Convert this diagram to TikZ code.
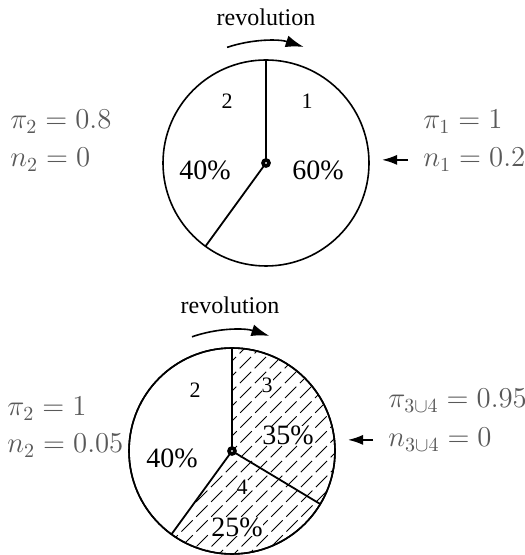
\documentclass[tikz,border=0pt]{standalone}
\usepackage[no-math]{fontspec}
\setmainfont{Liberation Serif}
\usetikzlibrary{arrows.meta, calc}
\definecolor{labelgray}{gray}{0.35}
\tikzset{
  disc/.style={circle, draw, line width=0.8pt, outer sep=0pt, inner sep=0pt, minimum size=103pt},
  spoke/.style={line width=0.9pt},
  hub/.style={circle, draw, fill=white, line width=1.8pt, inner sep=0pt, outer sep=0pt, minimum size=3pt},
  hatchline/.style={line width=0.45pt, dash pattern=on 8pt off 2.5pt},
  revarrow/.style={line width=0.8pt, -{Latex[length=9pt,width=6pt]}},
  feed/.style={line width=0.8pt, -{Latex[length=7.5pt,width=5pt]}},
  pct/.style={font=\fontsize{14}{16}\selectfont, inner sep=0pt},
  sectorno/.style={font=\fontsize{11}{13}\selectfont, inner sep=0pt},
  revtext/.style={font=\fontsize{12}{14}\selectfont, inner sep=0pt},
  param/.style={font=\fontsize{14}{16}\selectfont, text=labelgray, anchor=base west, inner sep=0pt}
}
\begin{document}
\begin{tikzpicture}[x=0.5pt, y=0.5pt]
  \useasboundingbox (0,0) rectangle (524,555);

  % Top disc: two sectors
  \coordinate (T) at (266,392);
  \node[disc] (discT) at (T) {};
  \node[hub] (hubT) at (T) {};
  \draw[spoke] (hubT) -- (discT.90);
  \draw[spoke] (hubT) -- (discT.234);
  \node[revtext] (revT) at (266,538) {revolution};
  \draw[revarrow] ($(T)+(108.6:122)$) arc (108.6:72:122);
  \node[sectorno] (sT2) at (227,454) {2};
  \node[sectorno] (sT1) at (307,454) {1};
  \node[pct] (pT2) at (205,385) {40\%};
  \node[pct] (pT1) at (318,385) {60\%};

  % Top parameters
  \node[param] (piT2) at (10,426) {$\pi_2 = 0.8$};
  \node[param] (nT2) at (10,388) {$n_2 = 0$};
  \node[param] (piT1) at (423,426) {$\pi_1 = 1$};
  \node[param] (nT1) at (423,388) {$n_1 = 0.2$};
  \coordinate (tipT) at (382,392);
  \draw[feed] ([xshift=-7.5pt]nT1.west) -- (nT1.west -| tipT);

  % Bottom disc: sector 2 plus hatched 3 and 4
  \coordinate (B) at (232,104);
  \node[disc] (discB) at (B) {};
  \begin{scope}
    \clip (B) -- (discB.234) arc (234:450:103) -- cycle;
    \foreach \k in {-19,...,19}
      \draw[hatchline] ([shift={(\k*15,0)}]B) ++(-140,-140) -- ++(280,280);
  \end{scope}
  \node[disc] at (B) {};
  \node[hub] (hubB) at (B) {};
  \draw[spoke] (hubB) -- (discB.90);
  \draw[spoke] (hubB) -- (discB.234);
  \draw[spoke] (hubB) -- (discB.-31);
  \node[revtext] (revB) at (230,250) {revolution};
  \draw[revarrow] ($(B)+(109.3:121)$) arc (109.3:72:121);
  \node[sectorno] (sB2) at (195,165) {2};
  \node[sectorno, fill=white] (sB3) at (267,170) {3};
  \node[sectorno, fill=white] (sB4) at (242,68) {4};
  \node[pct] (pB2) at (172,97) {40\%};
  \node[pct, fill=white] (pB3) at (288,120) {35\%};
  \node[pct, fill=white] (pB4) at (237,28) {25\%};

  % Bottom parameters
  \node[param] (piB2) at (7,139) {$\pi_2 = 1$};
  \node[param] (nB2) at (7,102) {$n_2 = 0.05$};
  \node[param] (piB34) at (388,147) {$\pi_{3\cup 4} = 0.95$};
  \node[param] (nB34) at (388,108) {$n_{3\cup 4} = 0$};
  \coordinate (tipB) at (348,105);
  \draw[feed] ([xshift=-7.5pt]nB34.west) -- (nB34.west -| tipB);
\end{tikzpicture}
\end{document}
